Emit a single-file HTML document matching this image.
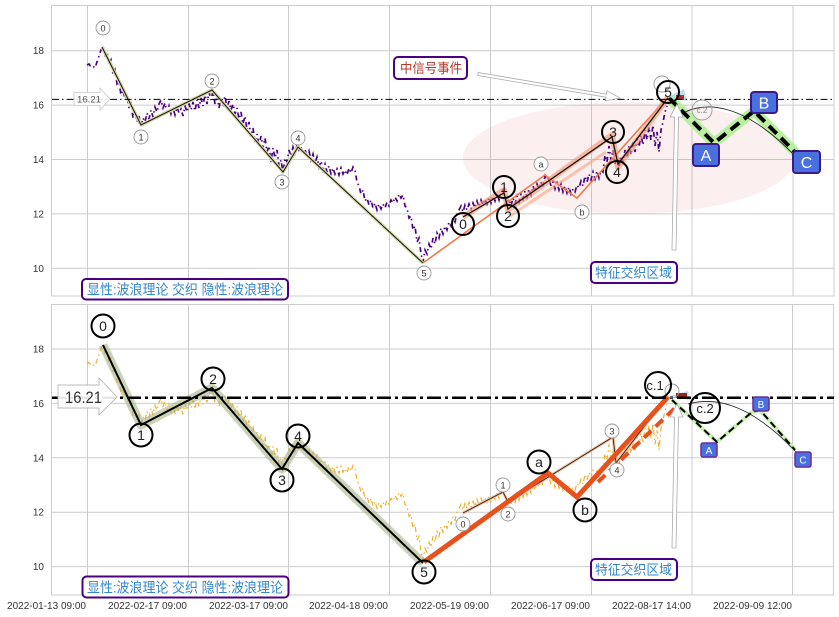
<!DOCTYPE html>
<html><head><meta charset="utf-8"><style>
html,body{margin:0;padding:0;background:#fff;}
svg{display:block;}
text{font-family:"Liberation Sans","Noto Sans CJK SC",sans-serif;}
.cjk{font-family:"Liberation Sans","Noto Sans CJK SC",sans-serif;}
</style></head><body>
<svg width="839" height="617" viewBox="0 0 839 617" xmlns="http://www.w3.org/2000/svg">
<defs>
<clipPath id="ct"><rect x="52" y="6" width="782" height="290"/></clipPath>
<clipPath id="cb"><rect x="52" y="305" width="782" height="290"/></clipPath>
<polyline id="price" fill="none" points="87,65 89,64 91,67 93,66 95,68 97,62 99,56 101,50 103,46 105,55 107,52 109,64 111,60 113,75 115,70 117,84 119,82 121,95 123,90 125,99 127,96 129,108 131,102 133,118 135,112 137,122 139,116 141,127 143,118 145,122 147,113 149,119 151,110 153,117 155,107 157,112 159,104 161,100 163,108 165,103 167,113 169,106 171,114 173,108 175,115 177,107 179,113 181,109 183,116 185,106 187,112 189,104 191,110 193,102 195,111 197,100 199,108 201,98 203,106 205,95 207,104 209,92 211,100 213,91 215,104 217,95 219,108 221,98 223,104 225,96 227,108 229,101 231,110 233,104 235,114 237,108 239,119 241,112 243,124 245,116 247,130 249,122 251,137 253,128 255,142 257,134 259,146 261,136 263,148 265,138 267,152 269,146 271,162 273,148 275,158 277,150 279,166 281,160 283,173 285,158 287,162 289,150 291,156 293,147 295,153 297,145 299,150 301,147 303,154 305,149 307,157 309,151 311,160 313,154 315,163 317,157 319,167 321,161 323,170 325,164 327,172 329,166 331,174 333,168 335,174 337,169 339,175 341,168 343,174 345,170 347,175 349,168 351,173 353,167 355,170 357,182 359,186 361,194 363,190 365,201 367,198 369,205 371,200 373,208 375,203 377,210 379,204 381,209 383,204 385,208 387,202 389,206 391,200 393,203 395,197 397,201 399,194 401,198 403,195 405,206 407,208 409,218 411,216 413,230 415,226 417,242 419,238 421,254 423,262 425,250 427,254 429,244 431,249 433,238 435,244 437,233 439,238 441,228 443,234 445,226 447,230 449,222 451,226 453,218 455,222 457,214 459,210 461,206 463,212 465,205 467,210 469,204 471,209 473,203 475,208 477,201 479,207 481,200 483,205 485,199 487,204 489,197 491,203 493,196 495,201 497,194 499,200 501,192 503,190 505,198 507,203 509,199 511,206 513,198 515,204 517,196 519,202 521,194 523,199 525,191 527,197 529,189 531,195 533,186 535,192 537,184 539,189 541,182 543,187 545,176 547,180 549,178 551,186 553,182 555,189 557,183 559,190 561,184 563,192 565,186 567,193 569,187 571,194 573,189 575,192 577,185 579,188 581,181 583,186 585,176 587,182 589,174 591,180 593,172 595,179 597,171 599,178 601,170 603,172 605,155 607,162 609,146 611,160 613,150 615,164 617,158 619,166 621,156 623,162 625,150 627,158 629,146 631,155 633,142 635,152 637,138 639,147 641,135 643,145 645,130 647,140 649,127 651,140 653,125 655,146 657,132 659,152 661,130 663,122 665,112 667,106"/>
</defs>

<rect x="0" y="0" width="839" height="617" fill="#fff"/>

<!-- ================= TOP PANEL ================= -->
<g stroke="#cccccc" stroke-width="1" fill="none">
<line x1="87.5" y1="6" x2="87.5" y2="296"/><line x1="188.5" y1="6" x2="188.5" y2="296"/>
<line x1="288.5" y1="6" x2="288.5" y2="296"/><line x1="389.5" y1="6" x2="389.5" y2="296"/>
<line x1="490.5" y1="6" x2="490.5" y2="296"/><line x1="591.5" y1="6" x2="591.5" y2="296"/>
<line x1="692" y1="6" x2="692" y2="296"/><line x1="793" y1="6" x2="793" y2="296"/>
<line x1="52" y1="50.7" x2="834" y2="50.7"/><line x1="52" y1="105.1" x2="834" y2="105.1"/>
<line x1="52" y1="159.5" x2="834" y2="159.5"/><line x1="52" y1="213.9" x2="834" y2="213.9"/>
<line x1="52" y1="268.3" x2="834" y2="268.3"/>
<rect x="51.5" y="5.5" width="782.5" height="290.5"/>
</g>
<g font-size="10" fill="#333" text-anchor="end">
<text x="44" y="54.2">18</text><text x="44" y="108.6">16</text><text x="44" y="163">14</text>
<text x="44" y="217.4">12</text><text x="44" y="271.8">10</text>
</g>

<g clip-path="url(#ct)">
<ellipse cx="629" cy="158" rx="166" ry="56" fill="rgb(220,120,120)" fill-opacity="0.12"/>
<use href="#price" stroke="#4b0082" stroke-width="1.7" stroke-dasharray="5,3.5,1.5,3.5"/>
<!-- main wave -->
<polyline points="102,47 141,125 212,90 283,172 298,147 423,263" fill="none" stroke="#d6d9a6" stroke-width="3.5" stroke-linejoin="round"/>
<polyline points="102,47 141,125 212,90 283,172 298,147 423,263" fill="none" stroke="#111" stroke-width="1"/>
<!-- sub wave -->
<polyline points="423,263 545,175 577,198 668,97" fill="none" stroke="#f07a4a" stroke-width="1.6"/>
<polyline points="463,217 504,190 508,210 612,135 618,167 668,97" fill="none" stroke="#f4956e" stroke-opacity="0.6" stroke-width="6" stroke-linejoin="round"/>
<line x1="510" y1="216" x2="606" y2="152" stroke="#f4956e" stroke-opacity="0.5" stroke-width="3"/>
<polyline points="463,217 504,193 508,209 612,137 618,164 668,98" fill="none" stroke="#111" stroke-width="1.3"/>
<!-- ABC -->
<polyline points="669,98 714,143 754,111 797,154" fill="none" stroke="#b8f0a0" stroke-width="10" stroke-linejoin="round"/>
<polyline points="669,98 714,143 754,111 797,154" fill="none" stroke="#000" stroke-width="4" stroke-dasharray="11,6"/>
<path d="M685,112 C705,103 742,100 797,158" fill="none" stroke="#222" stroke-width="0.9"/>
<polygon points="668,97 684,89 687,101" fill="#a8dbe8" fill-opacity="0.8"/>
<rect x="676" y="95" width="8" height="5" fill="#b03030"/>
<line x1="52" y1="99.4" x2="834" y2="99.4" stroke="#000" stroke-width="1" stroke-dasharray="7,3,1.5,3"/>
</g>

<!-- top 16.21 arrow -->
<polygon points="74,92.5 100,92.5 100,88 110,99 100,110 100,105.5 74,105.5" fill="#fff" fill-opacity="0.85" stroke="#c8c8c8" stroke-width="0.8"/>
<text x="77" y="102.5" font-size="9" fill="#555" textLength="24" lengthAdjust="spacingAndGlyphs">16.21</text>

<!-- top small gray circles -->
<g stroke="#999" stroke-width="0.9" fill="#fff">
<circle cx="103" cy="28" r="7"/><circle cx="141" cy="137" r="7"/><circle cx="212" cy="81" r="7"/>
<circle cx="282" cy="182" r="7"/><circle cx="298" cy="138" r="7"/><circle cx="424" cy="273" r="7"/>
<circle cx="541" cy="164" r="7"/><circle cx="582" cy="212" r="7"/>
<circle cx="662" cy="84" r="8" fill="none"/><circle cx="702" cy="110" r="10" fill="none"/>
</g>
<g font-size="9" fill="#333" text-anchor="middle">
<text x="103" y="31.3">0</text><text x="141" y="140.3">1</text><text x="212" y="84.3">2</text>
<text x="282" y="185.3">3</text><text x="298" y="141.3">4</text><text x="424" y="276.3">5</text>
<text x="541" y="167.3">a</text><text x="582" y="215.3">b</text>
<text x="702" y="113" font-size="8" fill="#888">c.2</text>
</g>
<!-- top big circles -->
<g stroke="#000" stroke-width="2" fill="none">
<circle cx="463" cy="224" r="11"/><circle cx="504" cy="187" r="11"/><circle cx="508" cy="216" r="11"/>
<circle cx="613" cy="132" r="11"/><circle cx="617" cy="172" r="11"/><circle cx="668" cy="92" r="11"/>
</g>
<g font-size="14" fill="#222" text-anchor="middle">
<text x="463" y="229">0</text><text x="504" y="192">1</text><text x="508" y="221">2</text>
<text x="613" y="137">3</text><text x="617" y="177">4</text><text x="668" y="97">5</text>
</g>
<!-- top ABC boxes -->
<g stroke="#3b1a8c" stroke-width="2" fill="#4a70e0">
<rect x="693" y="144" width="26" height="22" rx="3"/>
<rect x="751" y="92" width="26" height="21" rx="3"/>
<rect x="793" y="151" width="27" height="22" rx="3"/>
</g>
<g font-size="16" fill="#fff" text-anchor="middle">
<text x="706" y="161">A</text><text x="764" y="108.5">B</text><text x="806.5" y="168">C</text>
</g>

<!-- top annotation: 中信号事件 -->
<polygon points="477.8,75.5 606,97.2 605.4,100.6 620,98 607,90.7 606.5,94.2 478.2,72.5" fill="#fff" stroke="#aaa" stroke-width="0.8"/>
<rect x="394" y="57" width="73" height="22" rx="4" fill="#fff" stroke="#4b0082" stroke-width="2"/>
<text class="cjk" x="400" y="73" font-size="13.5" fill="#b8382e" textLength="62" lengthAdjust="spacingAndGlyphs">中信号事件</text>
<!-- top vertical arrow -->
<polygon points="672,250 674.5,117 670,117 677,104 683,117 678.5,117 676,250" fill="#fff" stroke="#aaa" stroke-width="0.8"/>
<rect x="591" y="262" width="86" height="21" rx="4" fill="#fff" stroke="#4b0082" stroke-width="2"/>
<text class="cjk" x="595" y="277.5" font-size="13.5" fill="#3388cc" textLength="77" lengthAdjust="spacingAndGlyphs">特征交织区域</text>
<rect x="82" y="279" width="206" height="20.5" rx="4" fill="#fff" stroke="#4b0082" stroke-width="2"/>
<text class="cjk" x="87" y="294.5" font-size="14" fill="#3388cc" textLength="196" lengthAdjust="spacingAndGlyphs">显性:波浪理论 交织 隐性:波浪理论</text>

<!-- ================= BOTTOM PANEL ================= -->
<g stroke="#cccccc" stroke-width="1" fill="none">
<line x1="87.5" y1="305" x2="87.5" y2="595"/><line x1="188.5" y1="305" x2="188.5" y2="595"/>
<line x1="288.5" y1="305" x2="288.5" y2="595"/><line x1="389.5" y1="305" x2="389.5" y2="595"/>
<line x1="490.5" y1="305" x2="490.5" y2="595"/><line x1="591.5" y1="305" x2="591.5" y2="595"/>
<line x1="692" y1="305" x2="692" y2="595"/><line x1="792.5" y1="305" x2="792.5" y2="595"/>
<line x1="52" y1="349" x2="834" y2="349"/><line x1="52" y1="403.4" x2="834" y2="403.4"/>
<line x1="52" y1="457.8" x2="834" y2="457.8"/><line x1="52" y1="512.2" x2="834" y2="512.2"/>
<line x1="52" y1="566.6" x2="834" y2="566.6"/>
<rect x="51.5" y="304.5" width="782" height="290.5"/>
</g>
<g font-size="10" fill="#333" text-anchor="end">
<text x="44" y="352.5">18</text><text x="44" y="406.9">16</text><text x="44" y="461.3">14</text>
<text x="44" y="515.7">12</text><text x="44" y="570.1">10</text>
</g>

<g clip-path="url(#cb)">
<use href="#price" transform="translate(0,298.3)" stroke="#efb02e" stroke-width="1.2" stroke-dasharray="5,3.5,1.5,3.5"/>
<polyline points="103,345 141,425 212,388 282,469 298,443 423,563" fill="none" stroke="#a6b488" stroke-opacity="0.6" stroke-width="9" stroke-linejoin="round"/>
<polyline points="103,345 141,425 212,388 282,469 298,443 423,563" fill="none" stroke="#000" stroke-width="2"/>
<polyline points="463,513 503,492 508,502 613,437 616,463 667,397" fill="none" stroke="#f6c0a0" stroke-width="3"/>
<polyline points="463,513 503,492 508,502 613,437 616,463 667,397" fill="none" stroke="#222" stroke-width="0.9"/>
<polyline points="424,562 548,473 577,497 668,397" fill="none" stroke="#e8501c" stroke-width="5" stroke-linejoin="miter"/>
<line x1="598" y1="482" x2="677" y2="406" stroke="#e8501c" stroke-width="4" stroke-dasharray="10,6"/>
<polyline points="672,400 717,442 752,412 760,410 795,450" fill="none" stroke="#c8f0b0" stroke-width="4"/>
<polyline points="672,400 717,442 752,412 760,410 795,450" fill="none" stroke="#000" stroke-width="2" stroke-dasharray="7,4"/>
<path d="M688,404 C710,398 745,398 796,452" fill="none" stroke="#222" stroke-width="0.8"/>
<polygon points="670,396 688,391 690,400" fill="#a8dbe8" fill-opacity="0.8"/>
<rect x="676" y="393" width="11" height="5" fill="#a02020"/>
<line x1="52" y1="397.7" x2="834" y2="397.7" stroke="#000" stroke-width="2.5" stroke-dasharray="14,4,3,4"/>
</g>

<!-- bottom 16.21 arrow -->
<polygon points="58,385 99,385 99,378 117,397 99,415 99,408 58,408" fill="#fff" fill-opacity="0.9" stroke="#bbb" stroke-width="0.9"/>
<text x="65" y="403" font-size="17" fill="#333" textLength="37" lengthAdjust="spacingAndGlyphs">16.21</text>

<!-- bottom small gray circles -->
<g stroke="#999" stroke-width="0.9" fill="#fff">
<circle cx="463" cy="524" r="7"/><circle cx="503" cy="485" r="7"/><circle cx="508" cy="514" r="7"/>
<circle cx="612" cy="431" r="7"/><circle cx="617" cy="470" r="7"/><circle cx="672" cy="391" r="7" fill="none"/>
</g>
<g font-size="9" fill="#333" text-anchor="middle">
<text x="463" y="527.3">0</text><text x="503" y="488.3">1</text><text x="508" y="517.3">2</text>
<text x="612" y="434.3">3</text><text x="617" y="473.3">4</text>
</g>
<!-- bottom big circles -->
<g stroke="#000" stroke-width="2" fill="none">
<circle cx="103" cy="326" r="11.5"/><circle cx="141" cy="435" r="11.5"/><circle cx="213" cy="379" r="11.5"/>
<circle cx="282" cy="480" r="11.5"/><circle cx="298" cy="436" r="11.5"/><circle cx="424" cy="572" r="11.5"/>
<circle cx="539" cy="462" r="11.5"/><circle cx="585" cy="510" r="11.5"/>
<circle cx="658" cy="385" r="13"/><circle cx="705" cy="408" r="15"/>
</g>
<g font-size="14" fill="#222" text-anchor="middle">
<text x="103" y="331">0</text><text x="141" y="440">1</text><text x="213" y="384">2</text>
<text x="282" y="485">3</text><text x="298" y="441">4</text><text x="424" y="577">5</text>
<text x="539" y="467">a</text><text x="585" y="515">b</text>
<text x="655" y="390" font-size="13">c.1</text><text x="705" y="413" font-size="13">c.2</text>
</g>
<!-- bottom ABC boxes -->
<g stroke="#6a2aa0" stroke-width="1.5" fill="#4a70e0">
<rect x="701" y="443" width="16" height="14" rx="2"/>
<rect x="753" y="397" width="16" height="14" rx="2"/>
<rect x="795" y="452" width="16" height="15" rx="2"/>
</g>
<g font-size="10" fill="#fff" text-anchor="middle">
<text x="709" y="454">A</text><text x="761" y="408">B</text><text x="803" y="463.5">C</text>
</g>

<!-- bottom annotations -->
<polygon points="672,548 674.5,417 670,417 677,404 683,417 678.5,417 676,548" fill="#fff" stroke="#aaa" stroke-width="0.8"/>
<rect x="591" y="559" width="86" height="21" rx="4" fill="#fff" stroke="#4b0082" stroke-width="2"/>
<text class="cjk" x="595" y="574.5" font-size="13.5" fill="#3388cc" textLength="77" lengthAdjust="spacingAndGlyphs">特征交织区域</text>
<rect x="82.5" y="576.5" width="206" height="21" rx="4" fill="#fff" stroke="#4b0082" stroke-width="2"/>
<text class="cjk" x="87" y="592.5" font-size="14" fill="#3388cc" textLength="196" lengthAdjust="spacingAndGlyphs">显性:波浪理论 交织 隐性:波浪理论</text>

<!-- x labels -->
<g font-size="10" fill="#333" text-anchor="end">
<text x="86" y="609">2022-01-13 09:00</text>
<text x="187" y="609">2022-02-17 09:00</text>
<text x="288" y="609">2022-03-17 09:00</text>
<text x="388" y="609">2022-04-18 09:00</text>
<text x="489" y="609">2022-05-19 09:00</text>
<text x="590" y="609">2022-06-17 09:00</text>
<text x="691" y="609">2022-08-17 14:00</text>
<text x="792" y="609">2022-09-09 12:00</text>
</g>
</svg>
</body></html>
